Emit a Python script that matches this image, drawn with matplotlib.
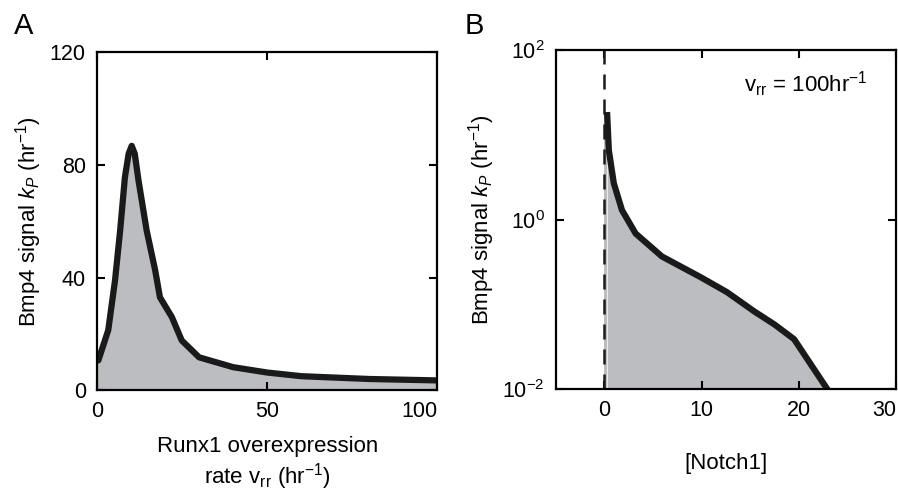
import numpy as np
import matplotlib.pyplot as plt

plt.rcParams['font.family'] = 'Liberation Sans'
plt.rcParams['mathtext.fontset'] = 'custom'
plt.rcParams['mathtext.rm'] = 'Liberation Sans'
plt.rcParams['mathtext.it'] = 'Liberation Sans:italic'

# panel A: Bmp4 signal vs Runx1 overexpression rate
vrr = [0, 0.4, 3.3, 5.3, 6.8, 8.2, 9.3, 10.2, 11.1, 12.2, 14.6, 17.1, 18.5,
       22, 24.9, 30, 40, 50, 60, 80, 100]
kp_a = [10.5, 10.6, 21.3, 39, 56.7, 75.6, 84, 86.8, 84, 74.5, 56.7, 42.6, 33,
        26, 17.7, 11.7, 8.2, 6.3, 5.0, 4.0, 3.5]

# panel B: Bmp4 signal vs Notch1 (v_rr = 100)
notch = [0.28, 0.45, 0.96, 1.8, 3.2, 5.9, 9.9, 12.6, 15.4, 17.5, 19.5, 22.8]
kp_b = [17.2, 6.6, 2.7, 1.3, 0.69, 0.37, 0.21, 0.14, 0.083, 0.058, 0.039, 0.0105]

fill_c = '#bcbdc0'
line_c = '#1a1a1a'
fs_lab = 16
fs_tick = 15.5

fig = plt.figure(figsize=(8.98, 4.94), dpi=100)
ax1 = fig.add_axes([0.108, 0.21, 0.379, 0.684])
ax2 = fig.add_axes([0.619, 0.212, 0.379, 0.686])

ax1.fill_between(vrr, kp_a, 0, color=fill_c, lw=0)
ax1.plot(vrr, kp_a, color=line_c, lw=4.5, solid_joinstyle='round')
ax1.set_xlim(0, 100)
ax1.set_ylim(0, 120)
ax1.set_xticks([0, 50, 100])
ax1.set_yticks([0, 40, 80, 120])
ax1.set_xlabel('Runx1 overexpression\nrate v$_{\\rm rr}$ (hr$^{-1}$)', fontsize=fs_lab,
               labelpad=10, linespacing=1.15)
ax1.set_ylabel('Bmp4 signal $k_P$ (hr$^{-1}$)', fontsize=fs_lab, labelpad=4)
ax1.get_xticklabels()[-1].set_ha('right')

ax2.fill_between(notch, kp_b, 1e-2, color=fill_c, lw=0)
ax2.fill_between([0, notch[0]], [kp_b[0], kp_b[0]], 1e-2, color=fill_c, lw=0)
ax2.axvline(0, color=line_c, lw=1.8, ls=(0, (6, 4)))
ax2.plot(notch, kp_b, color=line_c, lw=4.5, solid_joinstyle='round')
ax2.set_yscale('log')
ax2.set_xlim(-5, 30)
ax2.set_ylim(1e-2, 1e2)
ax2.set_xticks([0, 10, 20, 30])
ax2.set_yticks([1e-2, 1, 1e2])
ax2.set_yticklabels(['10$^{-2}$', '10$^{0}$', '10$^{2}$'])
ax2.minorticks_off()
ax2.set_xlabel('[Notch1]', fontsize=fs_lab, labelpad=23)
ax2.set_ylabel('Bmp4 signal $k_P$ (hr$^{-1}$)', fontsize=fs_lab, labelpad=4)
ax2.get_xticklabels()[-1].set_ha('right')
ax2.text(0.915, 0.9, 'v$_{\\rm rr}$ = 100hr$^{-1}$', transform=ax2.transAxes,
         ha='right', va='center', fontsize=fs_lab)

for ax in (ax1, ax2):
    ax.tick_params(direction='in', top=True, right=True, length=6, width=1.5,
                   labelsize=fs_tick, pad=8)
    for s in ax.spines.values():
        s.set_linewidth(1.6)

fig.text(0.016, 0.932, 'A', fontsize=21)
fig.text(0.517, 0.932, 'B', fontsize=21)

fig.savefig('out.png', dpi=100)
